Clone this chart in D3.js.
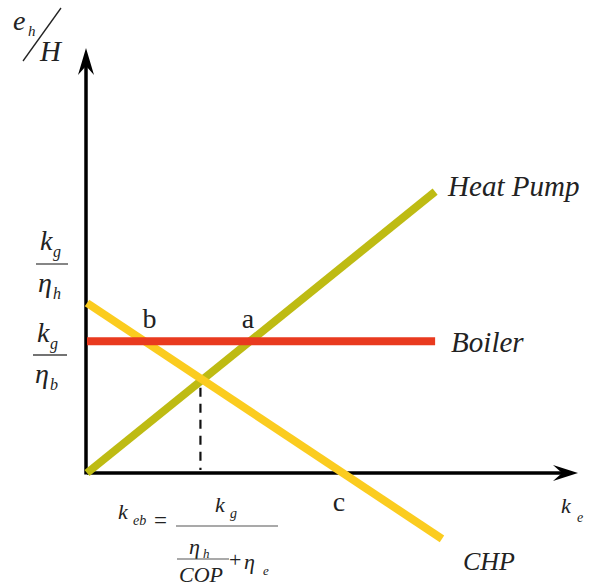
<!DOCTYPE html>
<html>
<head>
<meta charset="utf-8">
<script src="https://cdn.jsdelivr.net/npm/d3@7"></script>
</head>
<body style="margin:0">
<svg id="chart" width="591" height="587" style="font-family: 'Liberation Serif'"></svg>
<script>
// ---- data (abstract units) ----
const xDomain = [0, 10];
const yDomain = [0, 10];
const seriesNames = ["Heat Pump", "Boiler", "CHP"];
const seriesColors = ["#BEBB13", "#E93A1F", "#FBCC1F"];
const startX = [0, 0, 0];
const startY = [0, 3.1, 4.0];
const endX = [7.09, 7.09, 7.23];
const endY = [6.62, 3.1, -1.55];
const pointLabels = ["b", "a", "c"];

const svg = d3.select("#chart");
const x = d3.scaleLinear().domain(xDomain).range([87, 578]);
const y = d3.scaleLinear().domain(yDomain).range([473, 48]);

function T(g, txt, px, py, size, italic) {
  const t = g.append("text").attr("x", px).attr("y", py)
    .attr("font-size", size)
    .style("font-family", '"Liberation Serif"')
    .attr("fill", "#222").text(txt);
  if (italic) t.style("font-style", "italic");
  return t;
}

function lineParams(i) {
  const m = (endY[i] - startY[i]) / (endX[i] - startX[i]);
  return { m, b: startY[i] - m * startX[i] };
}
function intersect(i, j) {
  const a = lineParams(i), b = lineParams(j);
  const xi = (b.b - a.b) / (a.m - b.m);
  return [xi, a.m * xi + a.b];
}

// ---- axes ----
const axisG = svg.append("g");
axisG.append("line").attr("x1", x(0)).attr("x2", x(10) - 14)
  .attr("y1", y(0)).attr("y2", y(0)).attr("stroke", "#000").attr("stroke-width", 3.5);
axisG.append("line").attr("x1", x(0) - 1).attr("x2", x(0) - 1)
  .attr("y1", y(0) + 1.5).attr("y2", y(10) + 14).attr("stroke", "#000").attr("stroke-width", 3.5);
const xt = [x(10), y(0)];
axisG.append("path").attr("d",
  `M${xt[0]},${xt[1]} L${xt[0] - 25},${xt[1] - 8} L${xt[0] - 16},${xt[1]} L${xt[0] - 25},${xt[1] + 8} Z`)
  .attr("fill", "#000");
const yt = [x(0) - 1, y(10)];
axisG.append("path").attr("d",
  `M${yt[0]},${yt[1]} L${yt[0] - 8},${yt[1] + 27} L${yt[0]},${yt[1] + 18} L${yt[0] + 8},${yt[1] + 27} Z`)
  .attr("fill", "#000");

// ---- dashed drop line at HP/CHP intersection ----
const pHC = intersect(0, 2);
svg.append("line").attr("x1", x(pHC[0]) - 2).attr("x2", x(pHC[0]) - 2)
  .attr("y1", y(pHC[1]) + 8).attr("y2", y(0) - 3)
  .attr("stroke", "#111").attr("stroke-width", 2.2).attr("stroke-dasharray", "9,7");

// ---- series lines ----
const drawOrder = [0, 2, 1];
svg.append("g").selectAll("line").data(drawOrder).join("line")
  .attr("x1", i => x(startX[i])).attr("y1", i => y(startY[i]))
  .attr("x2", i => x(endX[i])).attr("y2", i => y(endY[i]))
  .attr("stroke", i => seriesColors[i]).attr("stroke-width", 8);

// ---- series name labels ----
const nameDx = [13, 16, 21];
const nameDy = [4, 11, 31];
const nameSize = [29, 29, 26];
[0, 1, 2].forEach(i => {
  T(svg, seriesNames[i], x(endX[i]) + nameDx[i], y(endY[i]) + nameDy[i], nameSize[i], true);
});

// ---- intersection point labels ----
const pts = [intersect(1, 2), intersect(0, 1), [-lineParams(2).b / lineParams(2).m, 0]];
const ptDx = [5, -2, -4];
const ptDy = [-13, -13, 38];
[0, 1, 2].forEach(i => {
  T(svg, pointLabels[i], x(pts[i][0]) + ptDx[i], y(pts[i][1]) + ptDy[i], 28, false)
    .attr("text-anchor", "middle");
});

// ---- axis titles ----
const yTitle = svg.append("g");
T(yTitle, "e", 13, 30, 28, true);
T(yTitle, "h", 28, 36, 15, true);
yTitle.append("line").attr("x1", 23).attr("y1", 61).attr("x2", 61).attr("y2", 8)
  .attr("stroke", "#222").attr("stroke-width", 1.3);
T(yTitle, "H", 40, 61, 29, true);

T(svg, "k", 561, 513, 22, true);
T(svg, "e", 577, 522, 14, true);

// ---- y-axis fraction labels ----
const fracSubs = ["h", "b"];
const fracTop = [250, 342];
const fracBar = [264, 355];
const fracBot = [292, 383];
const fracX = [[36, 68], [33, 67]];
fracSubs.forEach((s, i) => {
  const g = svg.append("g");
  T(g, "k", fracX[i][0] + 4, fracTop[i], 28, true);
  T(g, "g", fracX[i][0] + 17, fracTop[i] + 7, 16, true);
  g.append("line").attr("x1", fracX[i][0]).attr("x2", fracX[i][1])
    .attr("y1", fracBar[i]).attr("y2", fracBar[i]).attr("stroke", "#444").attr("stroke-width", 1.3);
  T(g, "η", fracX[i][0] + 2, fracBot[i], 28, true);
  T(g, s, fracX[i][0] + 17, fracBot[i] + 7, 16, true);
});

// ---- formula ----
const f = svg.append("g");
T(f, "k", 118, 519, 22, true);
T(f, "eb", 133, 525, 14, true);
T(f, "=", 154, 528, 23, false);
f.append("line").attr("x1", 176).attr("x2", 278).attr("y1", 526).attr("y2", 526).attr("stroke", "#555").attr("stroke-width", 1.1);
T(f, "k", 215, 512, 22, true);
T(f, "g", 230, 518, 14, true);
T(f, "η", 189, 554, 22, true);
T(f, "h", 203, 558, 13, true);
f.append("line").attr("x1", 177).attr("x2", 229).attr("y1", 559).attr("y2", 559).attr("stroke", "#555").attr("stroke-width", 1.1);
T(f, "COP", 179, 582, 22, true);
T(f, "+", 229, 567, 22, false);
T(f, "η", 244, 569, 22, true);
T(f, "e", 263, 575, 13, true);
</script>
</body>
</html>
